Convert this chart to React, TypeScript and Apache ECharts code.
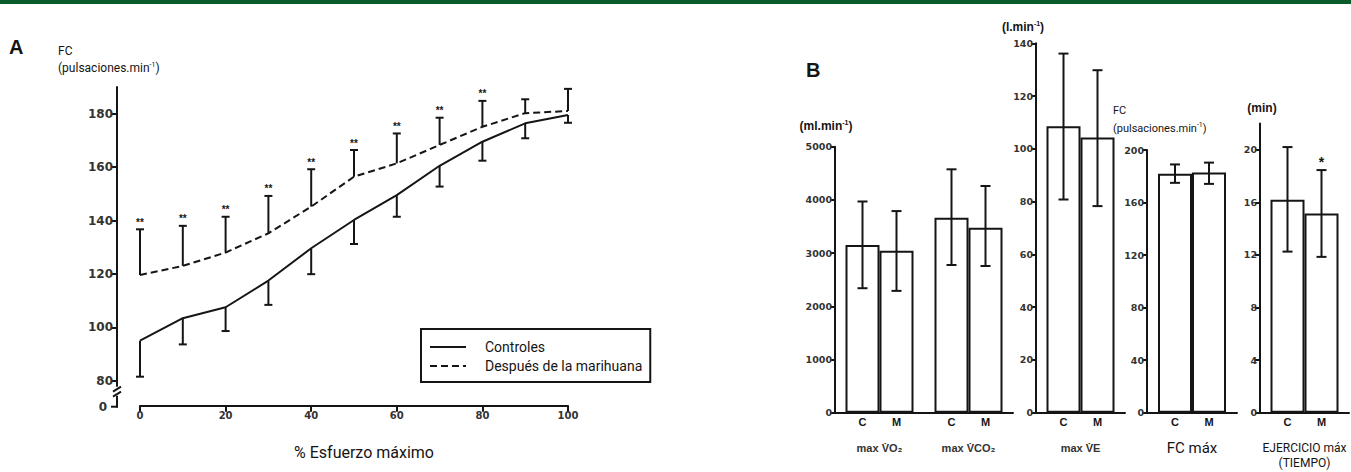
import React, { useEffect, useRef } from 'react';
import * as echarts from 'echarts';

// ---------- Panel A data ----------
const effortPct = [0, 10, 20, 30, 40, 50, 60, 70, 80, 90, 100];
const controlMean = [95, 103.4, 107.5, 117.5, 129.6, 140.2, 149.5, 160.5, 169.5, 176.4, 179.5];
const controlLow = [81.5, 93.6, 98.6, 108.4, 119.9, 131.2, 141.4, 152.7, 162.4, 170.8, 176.6];
const marijuanaMean = [119.6, 123, 128, 135.2, 145.2, 156.4, 161.4, 168.3, 175.1, 180.2, 181];
const marijuanaHigh = [136.7, 138, 141.4, 149.2, 159.2, 166.4, 172.6, 178.5, 184.8, 185.4, 189.3];
const marijuanaSig = ['**', '**', '**', '**', '**', '**', '**', '**', '**', '', ''];
const panelATicks = [80, 100, 120, 140, 160, 180];
const panelAExtent = [80, 190];
const seriesNames = ['Controles', 'Después de la marihuana'];

// ---------- Panel B data ----------
const gasCategories = ['max V\u0307O\u2082', 'max V\u0307CO\u2082'];
const gasControl = [3150, 3665];
const gasControlLow = [2340, 2776];
const gasControlHigh = [3970, 4575];
const gasMarijuana = [3045, 3477];
const gasMarijuanaLow = [2290, 2758];
const gasMarijuanaHigh = [3790, 4261];

const veCategories = ['max V\u0307E'];
const veControl = [108.6];
const veControlLow = [80.8];
const veControlHigh = [136.1];
const veMarijuana = [104.3];
const veMarijuanaLow = [78.3];
const veMarijuanaHigh = [129.8];

const hrCategories = ['FC máx'];
const hrControl = [182];
const hrControlLow = [175];
const hrControlHigh = [189];
const hrMarijuana = [182.8];
const hrMarijuanaLow = [174.2];
const hrMarijuanaHigh = [190.4];

const timeCategories = ['EJERCICIO máx\n(TIEMPO)'];
const timeControl = [16.2];
const timeControlLow = [12.25];
const timeControlHigh = [20.2];
const timeMarijuana = [15.15];
const timeMarijuanaLow = [11.85];
const timeMarijuanaHigh = [18.45];
const timeSig = ['*'];
const timeTicks = [0, 4, 8, 12, 16, 20];

const groupLetters = ['C', 'M'];

const INK = '#151515';
const NARROW = '"Liberation Sans Narrow", Roboto, sans-serif';
const TYPE = '"Liberation Sans", Arial, sans-serif';
const DIGITS = '"DejaVu Sans", sans-serif';
const BAR_W = 34;
const Y_OFFSET = 23;

export default function App() {
  const ref = useRef<HTMLDivElement>(null);

  useEffect(() => {
    if (!ref.current) return;
    const chart = echarts.init(ref.current, undefined, { renderer: 'svg' });

    const lineStyle = { stroke: INK, lineWidth: 2 };

    const errDown = (params: any, api: any) => {
      const x = api.value(0);
      const p1 = api.coord([x, api.value(1)]);
      const p2 = api.coord([x, api.value(2)]);
      return {
        type: 'group',
        children: [
          { type: 'line', shape: { x1: p1[0], y1: p1[1], x2: p2[0], y2: p2[1] }, style: lineStyle },
          { type: 'line', shape: { x1: p2[0] - 4, y1: p2[1], x2: p2[0] + 4, y2: p2[1] }, style: lineStyle },
        ],
      };
    };
    const errUp = (params: any, api: any) => {
      const x = api.value(0);
      const p1 = api.coord([x, api.value(1)]);
      const p2 = api.coord([x, api.value(2)]);
      const sig = marijuanaSig[params.dataIndex];
      const children: any[] = [
        { type: 'line', shape: { x1: p1[0], y1: p1[1], x2: p2[0], y2: p2[1] }, style: lineStyle },
        { type: 'line', shape: { x1: p2[0] - 4, y1: p2[1], x2: p2[0] + 4, y2: p2[1] }, style: lineStyle },
      ];
      if (sig) {
        children.push({
          type: 'text',
          x: p2[0],
          y: p2[1] - 7,
          style: { text: sig, fill: INK, font: 'bold 10px ' + TYPE, align: 'center', verticalAlign: 'middle' },
        });
      }
      return { type: 'group', children };
    };
    // break of the vertical axis of panel A, below its lowest value
    const axisBreakA = (params: any, api: any) => {
      if (params.dataIndex !== 0) return null;
      const top = api.coord([0, panelAExtent[1]]);
      const bot = api.coord([0, panelAExtent[0]]);
      const x = top[0] - Y_OFFSET;
      const y = bot[1];
      return {
        type: 'group',
        children: [
          { type: 'line', shape: { x1: x, y1: top[1], x2: x, y2: y + 6 }, style: lineStyle },
          { type: 'line', shape: { x1: x - 4, y1: y + 11, x2: x + 4, y2: y + 6 }, style: lineStyle },
          { type: 'line', shape: { x1: x - 4, y1: y + 16, x2: x + 4, y2: y + 11 }, style: lineStyle },
          { type: 'line', shape: { x1: x, y1: y + 15, x2: x, y2: y + 27 }, style: lineStyle },
          { type: 'line', shape: { x1: x - 6, y1: y + 26, x2: x, y2: y + 26 }, style: lineStyle },
          {
            type: 'text',
            x: x - 10,
            y: y + 26,
            style: { text: '0', fill: '#333', font: 'bold 12px ' + DIGITS, align: 'right', verticalAlign: 'middle' },
          },
        ],
      };
    };

    const barErr = (sigArr?: string[]) => (params: any, api: any) => {
      const cat = api.value(0);
      const side = api.value(3);
      const pLo = api.coord([cat, api.value(1)]);
      const pHi = api.coord([cat, api.value(2)]);
      const x = pLo[0] + (side * BAR_W) / 2;
      const children: any[] = [
        { type: 'line', shape: { x1: x, y1: pHi[1], x2: x, y2: pLo[1] }, style: lineStyle },
        { type: 'line', shape: { x1: x - 5, y1: pHi[1], x2: x + 5, y2: pHi[1] }, style: lineStyle },
        { type: 'line', shape: { x1: x - 5, y1: pLo[1], x2: x + 5, y2: pLo[1] }, style: lineStyle },
      ];
      if (sigArr && side > 0 && sigArr[cat]) {
        children.push({
          type: 'text',
          x,
          y: pHi[1] - 8,
          style: { text: sigArr[cat], fill: INK, font: 'bold 14px ' + TYPE, align: 'center', verticalAlign: 'middle' },
        });
      }
      return { type: 'group', children };
    };

    const bPanels = [
      { cats: gasCategories, c: gasControl, cl: gasControlLow, ch: gasControlHigh, m: gasMarijuana, ml: gasMarijuanaLow, mh: gasMarijuanaHigh, sig: undefined as any },
      { cats: veCategories, c: veControl, cl: veControlLow, ch: veControlHigh, m: veMarijuana, ml: veMarijuanaLow, mh: veMarijuanaHigh, sig: undefined },
      { cats: hrCategories, c: hrControl, cl: hrControlLow, ch: hrControlHigh, m: hrMarijuana, ml: hrMarijuanaLow, mh: hrMarijuanaHigh, sig: undefined },
      { cats: timeCategories, c: timeControl, cl: timeControlLow, ch: timeControlHigh, m: timeMarijuana, ml: timeMarijuanaLow, mh: timeMarijuanaHigh, sig: timeSig },
    ];

    const bGrids = [
      { left: 835, width: 178, top: 146.7, bottom: 59.3 },
      { left: 1036, width: 89, top: 43.3, bottom: 59.3 },
      { left: 1147, width: 90, top: 150, bottom: 59.3 },
      { left: 1260, width: 89, top: 123.4, bottom: 59.3 },
    ];
    const bY = [
      { min: 0, max: 5000, interval: 1000 },
      { min: 0, max: 140, interval: 20 },
      { min: 0, max: 200, interval: 40 },
      { min: 0, max: 22, custom: timeTicks },
    ];
    const catLabelStyles = [
      { fontFamily: TYPE, fontWeight: 'bold', fontSize: 11, color: '#333', margin: 30 },
      { fontFamily: TYPE, fontWeight: 'bold', fontSize: 11, color: '#333', margin: 30 },
      { fontFamily: NARROW, fontSize: 15, color: INK, margin: 28 },
      { fontFamily: NARROW, fontSize: 12, color: INK, margin: 28, lineHeight: 15 },
    ];

    const grid: any[] = [
      { left: 140, right: 783, top: 87, bottom: 91.3 },
      ...bGrids,
      // narrow grid that only carries the vertical axis of panel A
      { left: 140 - Y_OFFSET, width: 2, top: 87, bottom: 91.3 },
    ];
    const xAxis: any[] = [
      {
        type: 'value',
        gridIndex: 0,
        min: 0,
        max: 100,
        interval: 20,
        offset: 25,
        axisLine: { onZero: false, lineStyle: { color: INK, width: 2 } },
        axisTick: { length: 6, lineStyle: { color: INK, width: 2 } },
        axisLabel: { color: '#333', fontFamily: DIGITS, fontWeight: 'bold', fontSize: 10, margin: 5 },
        splitLine: { show: false },
        name: '% Esfuerzo máximo',
        nameLocation: 'middle',
        nameGap: 39,
        nameTextStyle: { fontFamily: NARROW, fontSize: 16, color: INK, padding: [0, 0, 0, 20] },
      },
    ];
    const yAxis: any[] = [
      {
        type: 'value',
        gridIndex: 0,
        min: panelAExtent[0],
        max: panelAExtent[1],
        show: false,
      },
    ];
    const series: any[] = [
      {
        name: seriesNames[0],
        type: 'line',
        xAxisIndex: 0,
        yAxisIndex: 0,
        data: effortPct.map((x, i) => [x, controlMean[i]]),
        symbol: 'none',
        lineStyle: { color: INK, width: 2 },
        itemStyle: { color: INK },
      },
      {
        name: seriesNames[1],
        type: 'line',
        xAxisIndex: 0,
        yAxisIndex: 0,
        data: effortPct.map((x, i) => [x, marijuanaMean[i]]),
        symbol: 'none',
        lineStyle: { color: INK, width: 2, type: [7, 4] },
        itemStyle: { color: INK },
      },
      {
        type: 'custom',
        xAxisIndex: 0,
        yAxisIndex: 0,
        renderItem: errDown,
        data: effortPct.map((x, i) => [x, controlMean[i], controlLow[i]]),
        clip: false,
        z: 3,
      },
      {
        type: 'custom',
        xAxisIndex: 0,
        yAxisIndex: 0,
        renderItem: errUp,
        data: effortPct.map((x, i) => [x, marijuanaMean[i], marijuanaHigh[i]]),
        clip: false,
        z: 3,
      },
      {
        type: 'custom',
        xAxisIndex: 0,
        yAxisIndex: 0,
        renderItem: axisBreakA,
        data: [[0, panelAExtent[0]]],
        clip: false,
        silent: true,
        z: 10,
      },
    ];

    bPanels.forEach((p, k) => {
      const gi = k + 1;
      const ls = catLabelStyles[k];
      xAxis.push({
        type: 'category',
        gridIndex: gi,
        data: p.cats,
        axisLine: { lineStyle: { color: INK, width: 2 } },
        axisTick: { show: false },
        axisLabel: { ...ls, interval: 0 },
      });
      const yb = bY[k];
      const yAx: any = {
        type: 'value',
        gridIndex: gi,
        min: yb.min,
        max: yb.max,
        axisLine: { show: true, lineStyle: { color: INK, width: 2 } },
        axisTick: { show: true, length: 5, lineStyle: { color: INK, width: 2 } },
        axisLabel: {
          color: '#333',
          fontFamily: DIGITS,
          fontWeight: 'bold',
          fontSize: 9.5,
          margin: 3,
          formatter: (v: number) => String(v),
        },
        splitLine: { show: false },
      };
      if (yb.custom) {
        yAx.axisTick.customValues = yb.custom;
        yAx.axisLabel.customValues = yb.custom;
      } else {
        yAx.interval = yb.interval;
      }
      yAxis.push(yAx);
      const barBase = {
        type: 'bar',
        xAxisIndex: gi,
        yAxisIndex: gi,
        barWidth: BAR_W,
        barGap: '0%',
        itemStyle: { color: '#ffffff', borderColor: INK, borderWidth: 2 },
        silent: true,
      };
      series.push({
        ...barBase,
        data: p.c,
        label: { show: true, position: 'bottom', distance: 4, formatter: groupLetters[0], fontFamily: TYPE, fontWeight: 'bold', fontSize: 11, color: INK },
      });
      series.push({
        ...barBase,
        data: p.m,
        label: { show: true, position: 'bottom', distance: 4, formatter: groupLetters[1], fontFamily: TYPE, fontWeight: 'bold', fontSize: 11, color: INK },
      });
      series.push({
        type: 'custom',
        xAxisIndex: gi,
        yAxisIndex: gi,
        renderItem: barErr(p.sig),
        clip: false,
        z: 5,
        data: [
          ...p.cats.map((_, i) => [i, p.cl[i], p.ch[i], -1]),
          ...p.cats.map((_, i) => [i, p.ml[i], p.mh[i], 1]),
        ],
      });
    });

    // vertical axis of panel A, in its own narrow grid (index 5)
    xAxis.push({ type: 'value', gridIndex: 5, min: 0, max: 1, show: false });
    yAxis.push({
      type: 'value',
      gridIndex: 5,
      min: panelAExtent[0],
      max: panelAExtent[1],
      axisLine: { show: true, onZero: false, lineStyle: { color: INK, width: 2 } },
      axisTick: { show: true, length: 6, lineStyle: { color: INK, width: 2 }, customValues: panelATicks },
      axisLabel: { color: '#333', fontFamily: DIGITS, fontWeight: 'bold', fontSize: 12, margin: 4, customValues: panelATicks },
      splitLine: { show: false },
    });

    const sup = { fontSize: 7, verticalAlign: 'top', lineHeight: 10, fontFamily: NARROW, fill: INK, color: INK };

    const option: any = {
      animation: false,
      grid,
      xAxis,
      yAxis,
      series,
      legend: {
        data: seriesNames,
        orient: 'vertical',
        left: 421,
        top: 329,
        padding: [11, 8, 9, 8],
        itemGap: 5,
        itemWidth: 36,
        itemHeight: 14,
        borderColor: INK,
        borderWidth: 2,
        borderRadius: 0,
        backgroundColor: '#ffffff',
        selectedMode: false,
        itemStyle: { opacity: 0 },
        textStyle: { fontFamily: NARROW, fontSize: 14, color: INK, padding: [0, 0, 0, 14] },
      },
      graphic: [
        { type: 'rect', shape: { x: 0, y: 0, width: 1351, height: 4 }, style: { fill: '#0b5a2a' } },
        { type: 'text', x: 9, y: 47, style: { text: 'A', font: 'bold 20px ' + TYPE, fill: INK, verticalAlign: 'middle' } },
        { type: 'text', x: 58, y: 51, style: { text: 'FC', font: '12px ' + NARROW, fill: INK, verticalAlign: 'middle' } },
        {
          type: 'text',
          x: 58,
          y: 68,
          style: {
            text: '{a|(pulsaciones.min}{s|-1}{a|)}',
            verticalAlign: 'middle',
            rich: { a: { fontSize: 12, fontFamily: NARROW, fill: INK, color: INK, lineHeight: 14 }, s: sup },
          },
        },
        // panel B labels
        { type: 'text', x: 806, y: 70, style: { text: 'B', font: 'bold 20px ' + TYPE, fill: INK, verticalAlign: 'middle' } },
        {
          type: 'text',
          x: 826,
          y: 126,
          style: {
            text: '{a|(ml.min}{s|-1}{a|)}',
            align: 'center',
            verticalAlign: 'middle',
            rich: { a: { fontSize: 12, fontWeight: 'bold', fontFamily: TYPE, fill: INK, color: INK, lineHeight: 14 }, s: { ...sup, fontWeight: 'bold', fontFamily: TYPE } },
          },
        },
        {
          type: 'text',
          x: 1023,
          y: 27,
          style: {
            text: '{a|(l.min}{s|-1}{a|)}',
            align: 'center',
            verticalAlign: 'middle',
            rich: { a: { fontSize: 12, fontWeight: 'bold', fontFamily: TYPE, fill: INK, color: INK, lineHeight: 14 }, s: { ...sup, fontWeight: 'bold', fontFamily: TYPE } },
          },
        },
        { type: 'text', x: 1113, y: 110, style: { text: 'FC', font: '11px ' + NARROW, fill: INK, verticalAlign: 'middle' } },
        {
          type: 'text',
          x: 1113,
          y: 128,
          style: {
            text: '{a|(pulsaciones.min}{s|-1}{a|)}',
            verticalAlign: 'middle',
            rich: { a: { fontSize: 11, fontFamily: NARROW, fill: INK, color: INK, lineHeight: 13 }, s: sup },
          },
        },
        { type: 'text', x: 1262, y: 108, style: { text: '(min)', font: 'bold 12px ' + TYPE, fill: INK, align: 'center', verticalAlign: 'middle' } },
      ],
    };

    chart.setOption(option);
    return () => chart.dispose();
  }, []);

  return (
    <div
      ref={ref}
      style={{ position: 'fixed', left: 0, top: 0, width: 1351, height: 472, background: '#fff' }}
    />
  );
}
